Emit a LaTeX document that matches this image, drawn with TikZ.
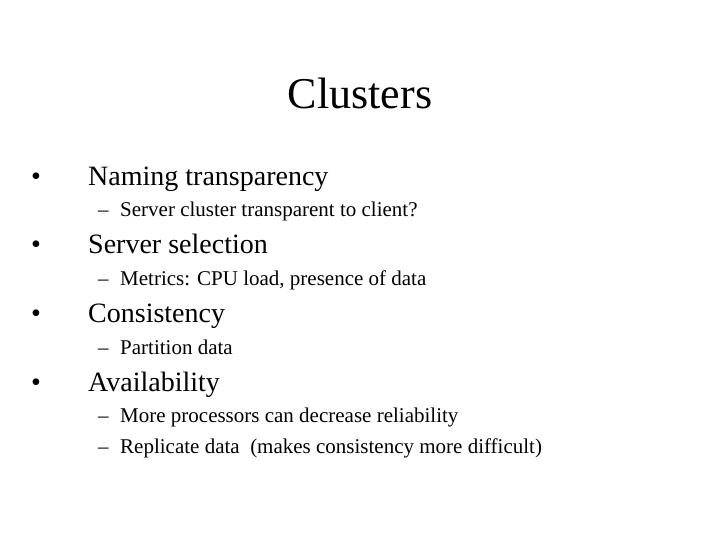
\documentclass[tikz,border=0pt]{standalone}
\usepackage{fontspec}
\setmainfont{Liberation Serif}
\begin{document}
\begin{tikzpicture}[x=1pt,y=-1pt,
  lone/.style={anchor=base west,inner sep=0pt,font=\fontsize{28}{32}\selectfont},
  ltwo/.style={anchor=base west,inner sep=0pt,font=\fontsize{21}{25}\selectfont}]
\useasboundingbox (0,0) rectangle (720,540);
\node[anchor=base,inner sep=0pt,font=\fontsize{44}{50}\selectfont] (title) at (360,109) {Clusters};
\foreach \y/\t [count=\i] in {186/Naming transparency,253/Server selection,322/Consistency,391/Availability}{
  \node[lone] (b\i) at (31,\y) {•};
  \node[lone] (t\i) at (88,\y) {\t};
}
\foreach \y/\t [count=\i] in {216/Server cluster transparent to client?,285/{Metrics: CPU load, presence of data},354/Partition data,422/More processors can decrease reliability,453/Replicate data\ \ (makes consistency more difficult)}{
  \node[ltwo] (d\i) at (98,\y) {–};
  \node[ltwo] (s\i) at (120,\y) {\t};
}
\end{tikzpicture}
\end{document}
